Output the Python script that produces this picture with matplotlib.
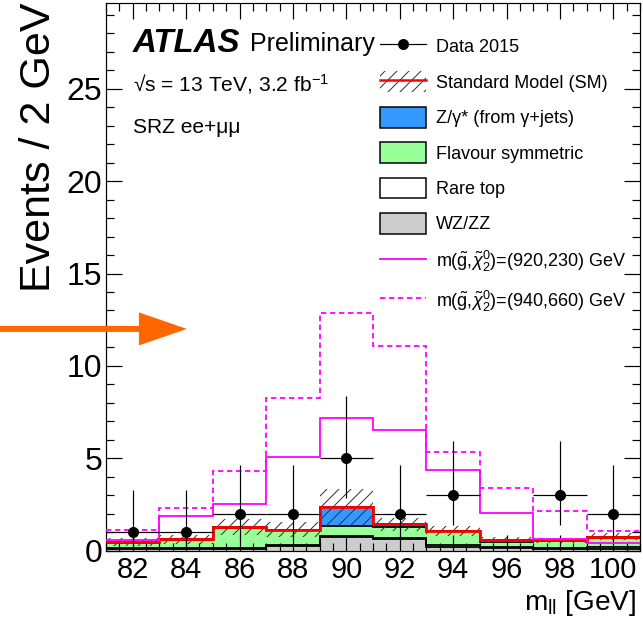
import numpy as np
import matplotlib
matplotlib.use("Agg")
import matplotlib.pyplot as plt
from matplotlib.patches import Patch
from matplotlib.lines import Line2D
from matplotlib.ticker import MultipleLocator

plt.rcParams['font.family'] = ['Liberation Sans', 'DejaVu Sans']
plt.rcParams['mathtext.fontset'] = 'custom'
plt.rcParams['mathtext.rm'] = 'Liberation Sans'
plt.rcParams['mathtext.it'] = 'Liberation Sans:italic'
plt.rcParams['mathtext.bf'] = 'Liberation Sans:bold'
plt.rcParams['hatch.linewidth'] = 1.0

# bins of m_ll [GeV]
bin_edges = [81, 83, 85, 87, 89, 91, 93, 95, 97, 99, 101]

# stacked backgrounds (bottom -> top)
wz_zz = [0.08, 0.08, 0.10, 0.25, 0.72, 0.62, 0.20, 0.12, 0.10, 0.10]
rare_top = [0.04, 0.05, 0.05, 0.05, 0.06, 0.08, 0.08, 0.05, 0.05, 0.10]
flav_sym = [0.28, 0.45, 1.09, 0.80, 0.53, 0.58, 0.75, 0.30, 0.38, 0.45]
z_gamma = [0.05, 0.03, 0.02, 0.02, 1.02, 0.15, 0.02, 0.10, 0.02, 0.10]
sm_unc = [0.22, 0.24, 0.42, 0.40, 1.00, 0.35, 0.28, 0.15, 0.15, 0.20]

# signal models
sig_920_230 = [0.55, 1.87, 2.54, 5.09, 7.20, 6.54, 4.37, 2.05, 0.60, 0.42]
sig_940_660 = [1.09, 2.32, 4.31, 8.24, 12.85, 11.10, 5.36, 3.40, 2.14, 1.06]

# data (bin with 0 events not drawn)
data_x = [82, 84, 86, 88, 90, 92, 94, 98, 100]
data_y = [1, 1, 2, 2, 5, 2, 3, 3, 2]
data_err_lo = [0.83, 0.83, 1.29, 1.29, 2.16, 1.29, 1.63, 1.63, 1.29]
data_err_hi = [2.30, 2.30, 2.64, 2.64, 3.38, 2.64, 2.92, 2.92, 2.64]

W, H = 643, 625
fig = plt.figure(figsize=(W / 72, H / 72), dpi=72)
ax = fig.add_axes([106 / W, 1 - 550.5 / H, 534 / W, 547.5 / H])

edges = np.array(bin_edges, dtype=float)
comps = [(wz_zz, '#cccccc'), (rare_top, 'white'), (flav_sym, '#99ff99'), (z_gamma, '#3399ff')]
bottom = np.zeros(len(wz_zz))
for vals, col in comps:
    top = bottom + np.array(vals)
    ax.stairs(top, edges, baseline=bottom, fill=True, color=col, lw=0, zorder=1)
    ax.stairs(top, edges, baseline=None, color='black', lw=1.8, zorder=2)
    bottom = top
total = bottom
unc = np.array(sm_unc)

ax.stairs(total + unc, edges, baseline=total - unc, fill=True, facecolor='none',
          edgecolor='#333333', hatch='//', lw=0, zorder=3)
ax.stairs(total, edges, baseline=None, color='#ff0000', lw=2.8, zorder=4)

ax.stairs(sig_920_230, edges, baseline=None, color='#ff00ff', lw=1.8, zorder=5)
ax.stairs(sig_940_660, edges, baseline=None, color='#ff00ff', lw=1.8,
          linestyle=(0, (3, 2)), zorder=5)

ax.errorbar(data_x, data_y, yerr=[data_err_lo, data_err_hi], xerr=1, fmt='o',
            color='black', ms=10, elinewidth=1.2, capsize=0, zorder=6)

ax.set_xlim(81, 101)
ax.set_ylim(0, 29.65)
ax.xaxis.set_major_locator(MultipleLocator(2))
ax.xaxis.set_minor_locator(MultipleLocator(0.5))
ax.yaxis.set_major_locator(MultipleLocator(5))
ax.yaxis.set_minor_locator(MultipleLocator(1))
ax.tick_params(which='both', direction='in', top=True, right=True, width=1.2)
ax.tick_params(which='major', length=16)
ax.tick_params(which='minor', length=8)
ax.tick_params(axis='y', labelsize=32, pad=4)
ax.tick_params(axis='x', labelsize=29, pad=5)
for s in ax.spines.values():
    s.set_linewidth(1.2)

ax.set_ylabel('Events / 2 GeV', fontsize=43, loc='top')
ax.yaxis.set_label_coords(-0.088, 1.0)
ax.set_xlabel(r'm$_{\mathrm{ll}}$ [GeV]', fontsize=28, loc='right')
ax.xaxis.set_label_coords(0.994, -0.068)

fig.text(133 / W, 1 - 52 / H, 'ATLAS', fontsize=33, fontweight='bold',
         fontstyle='italic', va='baseline')
fig.text(250 / W, 1 - 51 / H, 'Preliminary', fontsize=25, va='baseline')
fig.text(133 / W, 1 - 91 / H, '\u221as = 13 TeV, 3.2 fb$^{-1}$', fontsize=21, va='baseline')
fig.text(133 / W, 1 - 133 / H, 'SRZ ee+\u03bc\u03bc', fontsize=21, va='baseline')

handles = [
    Line2D([], [], color='black', marker='o', ms=10, lw=1.2),
    (Patch(facecolor='none', edgecolor='#333333', hatch='//', lw=0),
     Line2D([], [], color='#ff0000', lw=2.5)),
    Patch(facecolor='#3399ff', edgecolor='black', lw=1.5),
    Patch(facecolor='#99ff99', edgecolor='black', lw=1.5),
    Patch(facecolor='white', edgecolor='black', lw=1.5),
    Patch(facecolor='#cccccc', edgecolor='black', lw=1.5),
    Line2D([], [], color='#ff00ff', lw=1.8),
    Line2D([], [], color='#ff00ff', lw=1.8, linestyle=(0, (3, 2))),
]
labels = [
    'Data 2015',
    'Standard Model (SM)',
    'Z/\u03b3* (from \u03b3+jets)',
    'Flavour symmetric',
    'Rare top',
    'WZ/ZZ',
    r'm($\mathrm{\tilde{g}}$,$\tilde{\chi}^{0}_{2}$)=(920,230) GeV',
    r'm($\mathrm{\tilde{g}}$,$\tilde{\chi}^{0}_{2}$)=(940,660) GeV',
]
ax.legend(handles, labels, loc='upper left', bbox_to_anchor=(380 / W, 1 - 36 / H),
          bbox_transform=fig.transFigure, frameon=False, fontsize=18,
          handlelength=2.56, handleheight=1.39, handletextpad=0.56,
          labelspacing=0.82, borderpad=0, borderaxespad=0)

ax.annotate('', xy=(84.03, 12), xycoords='data', xytext=(0, 12),
            textcoords=('figure fraction', 'data'),
            arrowprops=dict(arrowstyle='simple,head_length=1.6,head_width=1.1,tail_width=0.2',
                            fc='#ff6600', ec='none', lw=0, mutation_scale=30,
                            shrinkA=0, shrinkB=0),
            annotation_clip=False)

fig.savefig('out.png', dpi=72)
